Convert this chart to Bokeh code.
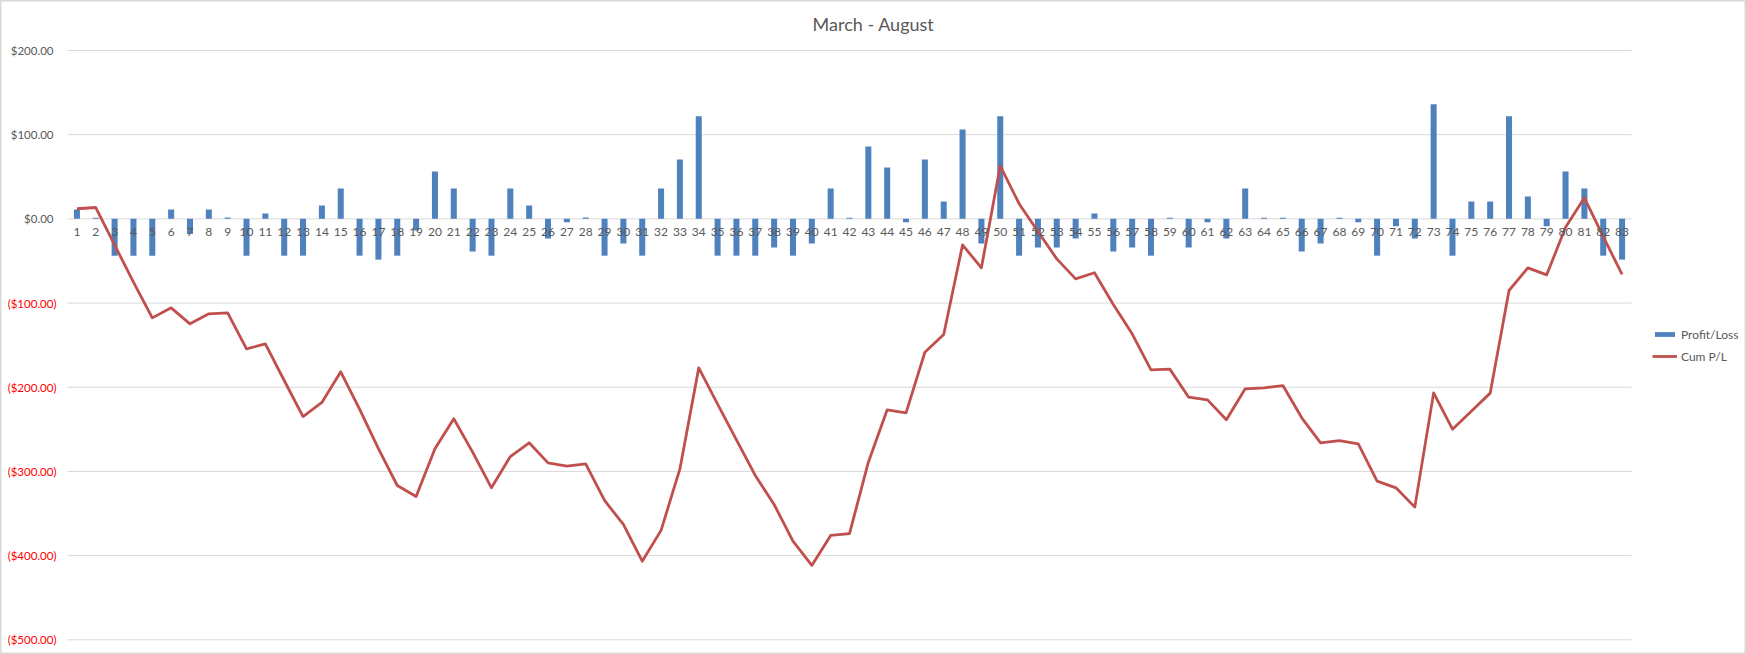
from bokeh.plotting import figure
from bokeh.models import (ColumnDataSource, Range1d, FixedTicker, Label,
                          Legend, LegendItem)
from bokeh.embed import file_html
from bokeh.resources import INLINE
from bokeh.core.properties import value

# ---------------- data ----------------
categories = [str(i) for i in range(1, 84)]

profit_loss = [
    11.1, 1.2, -43.7, -43.7, -43.7, 11.1, -17.9, 11.1, 1.6, -43.7,
    6.3, -43.7, -43.7, 15.9, 36.1, -43.7, -48.4, -43.7, -13.9, 56.3,
    36.1, -38.9, -43.7, 36.1, 15.9, -23.4, -4.0, 1.6, -43.7, -29.4,
    -43.7, 36.1, 70.6, 121.8, -43.7, -43.7, -43.7, -34.1, -43.7, -29.4,
    36.1, 1.2, 86.1, 61.1, -4.0, 70.6, 20.6, 106.3, -29.4, 121.8,
    -43.7, -34.1, -34.1, -23.4, 6.3, -38.9, -34.1, -43.7, 1.2, -34.1,
    -4.0, -23.4, 36.1, 1.2, 1.2, -38.9, -29.4, 1.2, -4.0, -43.7,
    -8.7, -23.4, 136.1, -43.7, 20.6, 20.6, 121.8, 26.6, -8.7, 56.3,
    36.1, -43.7, -48.4,
]

cum_pl = [
    12.0, 13.5, -31.0, -75.0, -117.6, -105.7, -124.7, -112.8, -111.6, -154.4,
    -148.5, -192.0, -234.8, -218.0, -181.7, -226.0, -273.0, -316.7, -329.8, -273.0,
    -237.5, -277.0, -319.5, -282.3, -266.0, -289.8, -293.7, -291.0, -334.5, -363.0,
    -406.6, -370.0, -297.0, -177.0, -220.0, -262.5, -304.8, -339.3, -382.8, -411.7,
    -376.0, -374.0, -289.0, -226.8, -230.4, -158.4, -137.4, -30.9, -58.2, 63.0,
    18.0, -15.0, -47.5, -71.3, -64.0, -101.7, -136.6, -179.3, -178.5, -211.8,
    -215.0, -238.7, -201.9, -200.7, -198.0, -236.3, -266.0, -263.3, -267.2, -311.6,
    -319.5, -342.4, -206.7, -249.8, -228.4, -207.0, -85.1, -58.2, -66.5, -10.0,
    25.0, -21.0, -66.0,
]

pos_ticks = [200, 100, 0]
pos_tick_labels = ["$200.00", "$100.00", "$0.00"]
neg_ticks = [-100, -200, -300, -400, -500]
neg_tick_labels = ["($100.00)", "($200.00)", "($300.00)", "($400.00)", "($500.00)"]
title_text = "March - August"
series_names = ["Profit/Loss", "Cum P/L"]

# ---------------- layout / styling ----------------
FONT = "Lato"
GRAY_TXT = "#595959"
GRID = "#D9D9D9"
BAR_COLOR = "#4F81BD"
LINE_COLOR = "#C0504D"

W, H = 1746, 654
N = len(categories)
positions = list(range(1, N + 1))

# plot area of the chart in page pixels
PA_LEFT, PA_RIGHT = 67.0, 1631.0
PA_TOP, PA_BOTTOM = 50.0, 639.3
y_top_val, y_bot_val = max(pos_ticks), min(neg_ticks)

px_per_cat = (PA_RIGHT - PA_LEFT) / N
x_lo = 0.5 - PA_LEFT / px_per_cat
x_hi = N + 0.5 + (W - PA_RIGHT) / px_per_cat
px_per_val = (PA_BOTTOM - PA_TOP) / (y_top_val - y_bot_val)
y_hi = y_top_val + PA_TOP / px_per_val
y_lo = y_bot_val - (H - PA_BOTTOM) / px_per_val

p = figure(width=W, height=H, x_range=Range1d(x_lo, x_hi),
           y_range=Range1d(y_lo, y_hi),
           output_backend="svg", toolbar_location=None,
           min_border_left=0, min_border_right=0,
           min_border_top=0, min_border_bottom=0)
p.outline_line_color = GRID
p.outline_line_width = 2
p.background_fill_color = "white"
p.border_fill_color = "white"
p.xgrid.visible = False
p.ygrid.visible = False
p.yaxis.visible = False

all_ticks = pos_ticks + neg_ticks
# horizontal gridlines spanning the category area
p.segment(x0=[0.5] * len(all_ticks), x1=[N + 0.5] * len(all_ticks),
          y0=all_ticks, y1=all_ticks, line_color=GRID, line_width=1)

src = ColumnDataSource(dict(x=positions, pl=profit_loss, cum=cum_pl))
bars = p.vbar(x="x", top="pl", bottom=0, width=0.32, fill_color=BAR_COLOR,
              line_color=None, source=src)
line = p.line(x="x", y="cum", line_color=LINE_COLOR, line_width=2.8,
              line_join="round", source=src)

# value labels of the vertical axis (negatives in red)
p.text(x=[0.5] * len(pos_ticks), y=pos_ticks, text=pos_tick_labels,
       x_offset=-14, text_align="right", text_baseline="middle",
       text_font=value(FONT), text_font_size="11.5px", text_color=GRAY_TXT)
p.text(x=[0.5] * len(neg_ticks), y=neg_ticks, text=neg_tick_labels,
       x_offset=-11, text_align="right", text_baseline="middle",
       text_font=value(FONT), text_font_size="11.5px", text_color="#FF0000")

# category axis crossing at zero
ax = p.xaxis[0]
ax.fixed_location = 0
ax.ticker = FixedTicker(ticks=positions)
ax.major_label_overrides = {pos: lab for pos, lab in zip(positions, categories)}
ax.axis_line_color = None
ax.major_tick_line_color = None
ax.minor_tick_line_color = None
ax.major_tick_out = 0
ax.major_tick_in = 0
ax.minor_tick_out = 0
ax.major_label_standoff = 9
ax.major_label_text_font = FONT
ax.major_label_text_font_size = "12px"
ax.major_label_text_color = GRAY_TXT
ax.major_label_orientation = "horizontal"

# title
p.add_layout(Label(x=W / 2, y=H - 23, x_units="screen", y_units="screen",
                   text=title_text, text_align="center", text_baseline="middle",
                   text_font=FONT, text_font_size="18px", text_color=GRAY_TXT))

# legend on the right
legend = Legend(items=[LegendItem(label=series_names[0], renderers=[bars]),
                       LegendItem(label=series_names[1], renderers=[line])],
                location=(1652, H - 366), orientation="vertical",
                border_line_color=None, background_fill_alpha=0,
                padding=0, margin=0, spacing=2,
                glyph_width=25, glyph_height=6, label_standoff=4,
                label_height=20, label_text_font=FONT,
                label_text_font_size="12px", label_text_color=GRAY_TXT)
p.add_layout(legend)

open("out.html", "w").write(file_html(p, INLINE))
